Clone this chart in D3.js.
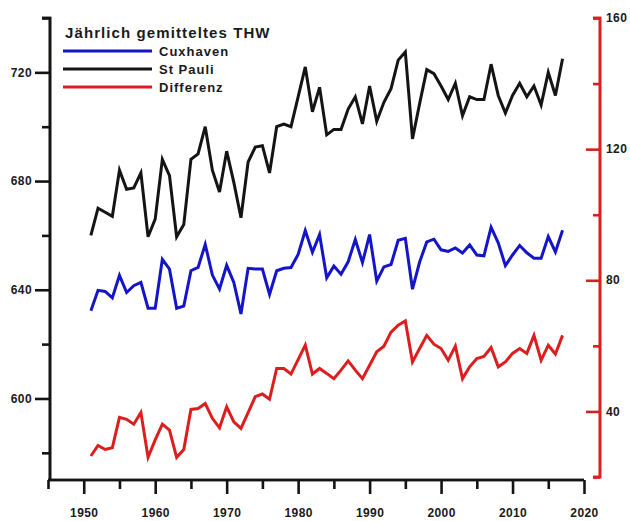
<!DOCTYPE html>
<html>
<head>
<meta charset="utf-8">
<script src="https://cdn.jsdelivr.net/npm/d3@7"></script>
<style>
  html, body { margin: 0; padding: 0; background: #fff; }
  svg { display: block; font-family: "Liberation Sans", Arial, sans-serif; }
</style>
</head>
<body>
<svg id="chart" width="630" height="521"></svg>
<script>
// Yearly mean high water (THW), cm
const years = d3.range(1951, 2018);

const cuxhaven = [
  632.3, 639.8, 639.4, 637.0, 645.3, 639.0, 641.5, 642.7, 633.2, 633.2,
  651.2, 647.6, 633.2, 634.0, 647.0, 648.2, 656.7, 645.4, 640.3, 649.0,
  642.7, 631.1, 647.9, 647.6, 647.6, 638.3, 647.0, 647.9, 648.2, 653.0,
  661.8, 653.8, 660.3, 644.4, 648.7, 645.7, 650.3, 658.5, 650.0, 660.3,
  643.2, 648.4, 649.3, 658.2, 658.9, 640.2, 650.2, 657.6, 658.6, 654.7,
  654.1, 655.4, 653.5, 656.5, 652.8, 652.5, 663.0, 657.3, 648.9, 652.8,
  656.3, 653.6, 651.6, 651.6, 659.6, 653.9, 661.9
];

const stPauli = [
  660.0, 670.0, 668.5, 667.0, 684.0, 677.0, 677.5, 683.0, 659.5, 666.0,
  688.0, 682.0, 659.5, 664.0, 688.0, 690.0, 700.0, 684.0, 676.0, 691.0,
  679.5, 666.5, 687.0, 692.5, 693.0, 683.0, 700.0, 701.0, 700.0, 711.0,
  722.0, 705.5, 714.5, 697.0, 699.0, 699.0, 706.5, 711.0, 701.0, 715.0,
  702.0, 709.0, 714.0, 724.5, 727.5, 695.5, 708.5, 721.0, 719.5, 715.0,
  710.0, 716.0, 704.0, 711.0, 710.0, 710.0, 723.0, 711.5, 705.0, 711.5,
  716.0, 711.0, 715.0, 708.0, 720.0, 711.5, 725.0
];

// Difference St Pauli minus Cuxhaven (right axis)
const differenz = [
  26.4, 29.6, 28.4, 28.9, 38.2, 37.6, 36.1, 39.7, 26.0, 31.3,
  36.1, 34.3, 26.0, 28.4, 40.6, 40.9, 42.4, 37.9, 35.0, 41.4,
  36.8, 34.8, 39.6, 44.5, 45.3, 43.7, 53.1, 53.1, 51.4, 55.8,
  60.2, 51.4, 53.1, 51.6, 50.0, 52.6, 55.4, 52.6, 50.0, 54.1,
  58.2, 59.9, 64.2, 66.3, 67.6, 55.1, 59.2, 63.2, 60.5, 59.2,
  55.6, 59.9, 50.0, 53.6, 56.1, 56.8, 59.5, 53.6, 55.1, 57.7,
  59.2, 57.7, 63.2, 55.6, 60.2, 57.5, 63.2
];

const xMajorTicks = [1950, 1960, 1970, 1980, 1990, 2000, 2010, 2020];
const xMinorTicks = [1945, 1955, 1965, 1975, 1985, 1995, 2005, 2015];
const leftMajorTicks = [600, 640, 680, 720];
const leftMinorTicks = [580, 620, 660, 700, 740];
const rightMajorTicks = [40, 80, 120, 160];
const rightMinorTicks = [20, 60, 100, 140];

const legendTitle = "Jährlich gemitteltes THW";
const seriesNames = ["Cuxhaven", "St Pauli", "Differenz"];

const BLUE = "#1414c8", BLACK = "#141414", RED = "#dc1e1e";

const svg = d3.select("#chart");

const x = d3.scaleLinear().domain([1945, 2020]).range([48, 584]);
const yL = d3.scaleLinear().domain([570, 740]).range([480, 18]);
const yR = d3.scaleLinear().domain([20, 160]).range([477, 18]);

const tickFont = "bold 12px 'Liberation Sans', Arial, sans-serif";

// ---- bottom axis
const xAxisG = svg.append("g").attr("transform", "translate(0,480)");
xAxisG.call(d3.axisBottom(x).tickValues(xMinorTicks).tickSize(9).tickFormat(""));
xAxisG.append("g").call(d3.axisBottom(x).tickValues(xMajorTicks).tickSize(14).tickPadding(14)
  .tickFormat(d3.format("d")));
xAxisG.selectAll(".domain").attr("d", `M${x(1945)},0H${x(2020)}`);

// ---- left axis
const lAxisG = svg.append("g").attr("transform", "translate(50,0)");
lAxisG.call(d3.axisLeft(yL).tickValues(leftMinorTicks).tickSize(8).tickFormat(""));
lAxisG.append("g").call(d3.axisLeft(yL).tickValues(leftMajorTicks).tickSize(15).tickPadding(3)
  .tickFormat(d3.format("d")));
lAxisG.selectAll(".domain").attr("d", `M-8,${yL(740)}H0V480`);

// ---- right axis (red), ticks pointing inward, labels outside
const rAxisG = svg.append("g").attr("transform", "translate(600,0)");
rAxisG.call(d3.axisLeft(yR).tickValues(rightMinorTicks.concat([160])).tickSize(7).tickFormat(""));
rAxisG.append("g").call(d3.axisLeft(yR).tickValues(rightMajorTicks.filter(v => v !== 160))
  .tickSize(14).tickFormat(""));
rAxisG.selectAll(".domain").attr("d", `M-7,${yR(160)}H0V${yR(20)}H-7`);
rAxisG.append("g").attr("text-anchor", "start")
  .selectAll("text").data(rightMajorTicks).join("text")
  .attr("x", 6).attr("y", d => yR(d)).attr("dy", "0.35em")
  .text(d => d);

// axis styling
svg.selectAll(".domain, .tick line").attr("stroke-width", 2.6);
xAxisG.selectAll("path, line").attr("stroke", BLACK);
lAxisG.selectAll("path, line").attr("stroke", BLACK);
rAxisG.selectAll("path, line").attr("stroke", RED);
svg.selectAll("text").style("font", tickFont).style("letter-spacing", "0.4px").attr("fill", "#1a1a1a");

// ---- series lines
const lineL = d3.line().x((d, i) => x(years[i])).y(d => yL(d));
const lineR = d3.line().x((d, i) => x(years[i])).y(d => yR(d));

const plot = svg.append("g").attr("fill", "none").attr("stroke-width", 3)
  .attr("stroke-linejoin", "miter").attr("stroke-miterlimit", 4);
plot.append("path").attr("d", lineL(stPauli)).attr("stroke", BLACK);
plot.append("path").attr("d", lineL(cuxhaven)).attr("stroke", BLUE);
plot.append("path").attr("d", lineR(differenz)).attr("stroke", RED);

// ---- legend
const legend = svg.append("g");
legend.append("text").attr("x", 65).attr("y", 37.5)
  .style("font", "bold 15px 'Liberation Sans', Arial, sans-serif")
  .style("letter-spacing", "1.1px").attr("fill", "#1a1a1a")
  .text(legendTitle);
const colors = [BLUE, BLACK, RED];
const rows = legend.selectAll("g.row").data(seriesNames).join("g")
  .attr("class", "row")
  .attr("transform", (d, i) => `translate(0,${51 + i * 18})`);
rows.append("line").attr("x1", 63).attr("x2", 152).attr("y1", 0).attr("y2", 0)
  .attr("stroke", (d, i) => colors[i]).attr("stroke-width", 3);
rows.append("text").attr("x", 159).attr("y", 0).attr("dy", "0.36em")
  .style("font", "bold 13px 'Liberation Sans', Arial, sans-serif")
  .style("letter-spacing", "1px").attr("fill", "#1a1a1a")
  .text(d => d);
</script>
</body>
</html>
